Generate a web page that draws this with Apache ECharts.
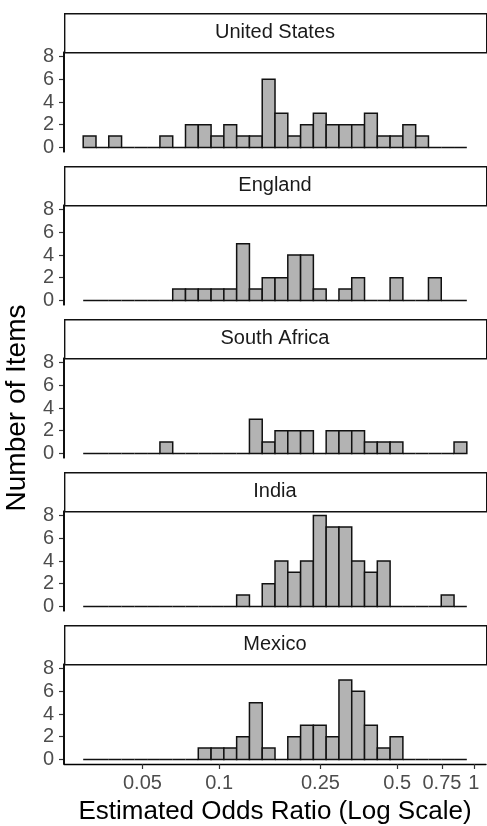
<!DOCTYPE html>
<html>
<head>
<meta charset="utf-8">
<script src="https://cdn.jsdelivr.net/npm/echarts@6/dist/echarts.min.js"></script>
<style>
html,body{margin:0;padding:0;background:#fff;}
#chart{width:487px;height:826px;}
</style>
</head>
<body>
<div id="chart"></div>
<script>
// ---- data ----
const countries = ['United States', 'England', 'South Africa', 'India', 'Mexico'];
// counts per histogram bin (30 bins, equal width on log10 scale)
const countsUS = [1,0,1,0,0,0,1,0,2,2,1,2,1,1,6,3,1,2,3,2,2,2,3,1,1,2,1,0,0,0];
const countsEngland = [0,0,0,0,0,0,0,1,1,1,1,1,5,1,2,2,4,4,1,0,1,2,0,0,2,0,0,2,0,0];
const countsSouthAfrica = [0,0,0,0,0,0,1,0,0,0,0,0,0,3,1,2,2,2,0,2,2,2,1,1,1,0,0,0,0,1];
const countsIndia = [0,0,0,0,0,0,0,0,0,0,0,0,1,0,2,4,3,4,8,7,7,4,3,4,0,0,0,0,1,0];
const countsMexico = [0,0,0,0,0,0,0,0,0,1,1,1,2,5,1,0,2,3,3,2,7,6,3,1,2,0,0,0,0,0];
const allCounts = [countsUS, countsEngland, countsSouthAfrica, countsIndia, countsMexico];
// bin geometry in log10(odds ratio) units
const binStartLog = -1.5336;
const binWidthLog = 0.05021;
// x tick labels (odds ratio values)
const xTickValues = [0.05, 0.1, 0.25, 0.5, 0.75, 1];
const xTickLabels = ['0.05', '0.1', '0.25', '0.5', '0.75', '1'];
const yTickValues = [0, 2, 4, 6, 8];

// ---- layout ----
const FONT = 'Liberation Sans, Arial, sans-serif';
const panelStep = 153;
const stripTop0 = 13;
const stripH = 39;
const plotH = 100;
const leftX = 64;
const rightX = 486;
const yMinAxis = -0.4, yMaxAxis = 8.4;
// x axis is in log10 units measured from the left limit of the panel
const xLeftLog = -1.609, xRightLog = 0.048;
const toAxis = lg => lg - xLeftLog;
const axisTicks = xTickValues.map(v => toAxis(Math.log10(v)));

const grids = [], xAxes = [], yAxes = [], series = [], graphics = [];
countries.forEach((name, i) => {
  const stripTop = stripTop0 + panelStep * i;
  const plotTop = stripTop + stripH;
  grids.push({ left: leftX, width: rightX - leftX, top: plotTop, height: plotH, outerBoundsMode: 'none' });
  const isLast = i === countries.length - 1;
  xAxes.push({
    type: 'value', gridIndex: i, min: 0, max: toAxis(xRightLog), position: 'bottom',
    show: isLast,
    splitLine: { show: false },
    axisLine: { show: isLast, onZero: false, lineStyle: { color: '#000', width: 1.4 } },
    axisTick: { show: isLast, customValues: axisTicks, length: 5, lineStyle: { color: '#333', width: 1.2 } },
    axisLabel: {
      show: isLast, customValues: axisTicks, margin: 9,
      color: '#4d4d4d', fontSize: 20, fontFamily: FONT,
      formatter: v => {
        let best = 0, bd = Infinity;
        axisTicks.forEach((t, k) => { const d = Math.abs(t - v); if (d < bd) { bd = d; best = k; } });
        return xTickLabels[best];
      }
    },
    name: isLast ? 'Estimated Odds Ratio (Log Scale)' : '',
    nameLocation: 'middle', nameGap: 35,
    nameTextStyle: { color: '#000', fontSize: 26, fontFamily: FONT }
  });
  yAxes.push({
    type: 'value', gridIndex: i, min: yMinAxis, max: yMaxAxis, position: 'left',
    splitLine: { show: false },
    axisLine: { show: true, lineStyle: { color: '#000', width: 1.5 } },
    axisTick: { show: true, customValues: yTickValues, length: 5, lineStyle: { color: '#333', width: 1.2 } },
    axisLabel: { customValues: yTickValues, margin: 10, color: '#4d4d4d', fontSize: 20, fontFamily: FONT },
    name: i === 2 ? 'Number of Items' : '',
    nameLocation: 'middle', nameGap: 33,
    nameTextStyle: { color: '#000', fontSize: 28, fontFamily: FONT }
  });
  series.push({
    type: 'custom', xAxisIndex: i, yAxisIndex: i, clip: false, z: 5,
    data: allCounts[i].map((c, k) => [k, c]),
    renderItem: (params, api) => {
      const k = api.value(0), c = api.value(1);
      const lo = api.coord([toAxis(binStartLog + k * binWidthLog), 0]);
      const hi = api.coord([toAxis(binStartLog + (k + 1) * binWidthLog), c]);
      const children = [{
        type: 'rect',
        shape: { x: lo[0], y: hi[1], width: hi[0] - lo[0], height: lo[1] - hi[1] },
        style: { fill: '#b3b3b3', stroke: '#111', lineWidth: 1.5 }
      }];
      if (params.dataIndex === 0) {
        // left axis line of the panel, from the y-axis limits
        const a = api.coord([0, yMinAxis]);
        const b = api.coord([0, yMaxAxis]);
        children.push({
          type: 'line',
          shape: { x1: a[0], y1: a[1], x2: b[0], y2: b[1] },
          style: { stroke: '#000', lineWidth: 1.5 }
        });
      }
      return { type: 'group', children: children };
    },
    silent: true, animation: false
  });
  graphics.push({
    type: 'rect', left: leftX, top: stripTop,
    shape: { x: 0, y: 0, width: rightX - leftX, height: stripH },
    style: { fill: '#fff', stroke: '#111', lineWidth: 1.4 }, z: 10
  });
  graphics.push({
    type: 'text', x: (leftX + rightX) / 2, y: stripTop + stripH / 2,
    style: { text: name, fill: '#1a1a1a', fontSize: 20, fontFamily: FONT, align: 'center', verticalAlign: 'middle' },
    z: 11
  });
});

const chart = echarts.init(document.getElementById('chart'), null, { renderer: 'canvas' });
chart.setOption({
  animation: false,
  backgroundColor: '#fff',
  grid: grids, xAxis: xAxes, yAxis: yAxes, series: series,
  graphic: graphics
});
</script>
</body>
</html>
